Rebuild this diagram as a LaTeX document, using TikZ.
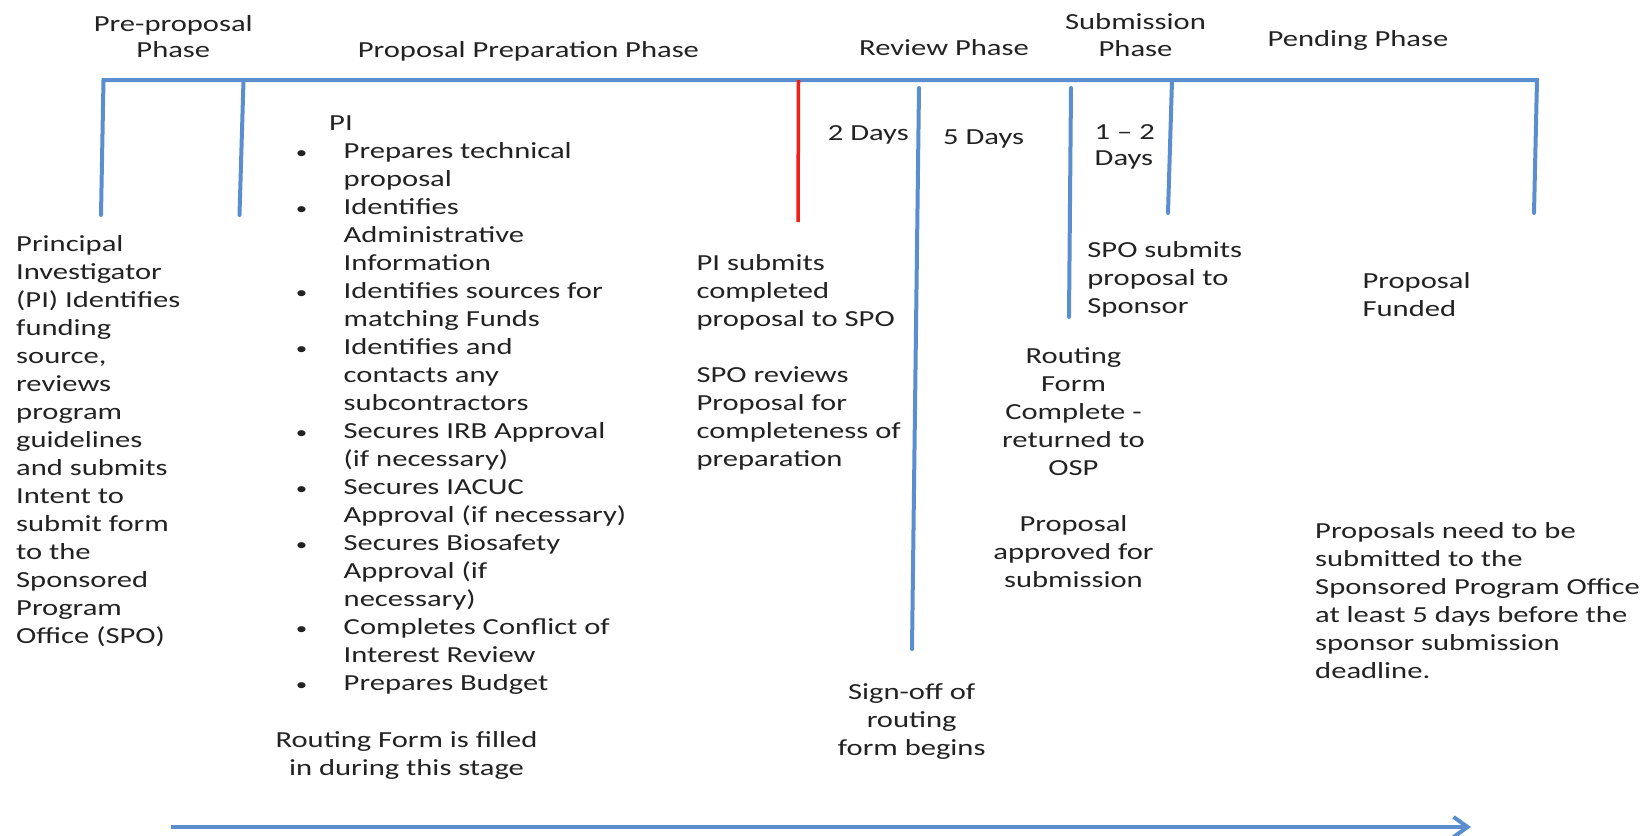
\documentclass[tikz,border=0pt]{standalone}
\usepackage{fontspec}
\setmainfont{Carlito}[FakeStretch=1.33]
\usetikzlibrary{arrows.meta}
\definecolor{tlblue}{RGB}{90,142,206}
\definecolor{tlred}{RGB}{240,30,20}
\definecolor{txt}{RGB}{34,34,34}
\newcommand{\mybul}{\hspace*{14.5bp}\llap{\makebox[20bp]{\scalebox{0.75}{\textbullet}}\hspace{32bp}}}
\newcommand{\myind}{\hspace*{14.5bp}}
\begin{document}
\begin{tikzpicture}[x=1bp,y=-1bp,
  tl/.style={line width=4bp, draw=tlblue, line cap=round},
  tlr/.style={line width=3.5bp, draw=tlred},
  lbl/.style={font=\fontsize{23bp}{28bp}\selectfont, text=txt, inner sep=0pt},
  ttl/.style={font=\fontsize{23bp}{26.5bp}\selectfont, text=txt, inner sep=0pt}]
\useasboundingbox (0,0) rectangle (1647,835);
% timeline
\coordinate (c1b) at (101,215);
\coordinate (c1t) at (103.5,80);
\coordinate (c7t) at (1537,80);
\coordinate (c7b) at (1534,213);
\coordinate (c2t) at (243.5,80);
\coordinate (c2b) at (239.5,215);
\coordinate (c3t) at (798.5,80);
\coordinate (c3b) at (798,222);
\coordinate (c4t) at (919,88);
\coordinate (c4b) at (912,649);
\coordinate (c5t) at (1071,88);
\coordinate (c5b) at (1069,317);
\coordinate (c6t) at (1172,80);
\coordinate (c6b) at (1168,213);
\coordinate (as) at (171,827);
\coordinate (ae) at (1471,827);
\draw[tl, line join=miter] (c1b) -- (c1t) -- (c7t) -- (c7b);
\draw[tl] (c2t) -- (c2b);
\draw[tlr] (c3t) -- (c3b);
\draw[tl] (c4t) -- (c4b);
\draw[tl] (c5t) -- (c5b);
\draw[tl] (c6t) -- (c6b);
\draw[line width=4bp, draw=tlblue, -{Straight Barb[length=14bp,width=20bp]}] (as) -- (ae);
\begin{scope}[shift={(0,3)}]
% phase titles (base anchor = last line)
\node[ttl, anchor=base, align=center] (tpre) at (173.3,54.5) {Pre-proposal\\Phase};
\node[ttl, anchor=base] (tprep) at (528.4,54) {Proposal Preparation Phase};
\node[ttl, anchor=base] (trev) at (944,52) {Review Phase};
\node[ttl, anchor=base, align=center] (tsub) at (1135.5,53) {Submission\\Phase};
\node[ttl, anchor=base] (tpend) at (1358,43) {Pending Phase};
% durations
\node[lbl, anchor=base west] (d2) at (827.7,137) {2 Days};
\node[lbl, anchor=base west] (d5) at (943,141.5) {5 Days};
\node[ttl, anchor=base west, align=left] (d12) at (1094.5,162.6) {1 – 2\\Days};
% texts
\node[lbl, anchor=base west, align=left] (pre) at (16,640) {Principal\\Investigator\\(PI) Identifies\\funding\\source,\\reviews\\program\\guidelines\\and submits\\Intent to\\submit form\\to the\\Sponsored\\Program\\Office (SPO)};
\node[lbl, anchor=base west, align=left] (prep) at (329,687) {PI\\
\mybul Prepares technical\\
\myind proposal\\
\mybul Identifies\\
\myind Administrative\\
\myind Information\\
\mybul Identifies sources for\\
\myind matching Funds\\
\mybul Identifies and\\
\myind contacts any\\
\myind subcontractors\\
\mybul Secures IRB Approval\\
\myind (if necessary)\\
\mybul Secures IACUC\\
\myind Approval (if necessary)\\
\mybul Secures Biosafety\\
\myind Approval (if\\
\myind necessary)\\
\mybul Completes Conflict of\\
\myind Interest Review\\
\mybul Prepares Budget};
\node[lbl, anchor=base, align=center] (route) at (406.5,772.5) {Routing Form is filled\\in during this stage};
\node[lbl, anchor=base west, align=left] (submit) at (696.4,463.6) {PI submits\\completed\\proposal to SPO\\[28bp]SPO reviews\\Proposal for\\completeness of\\preparation};
\node[lbl, anchor=base, align=center] (sign) at (911.7,752) {Sign-off of\\routing\\form begins};
\node[lbl, anchor=base west, align=left] (spo) at (1087.2,310) {SPO submits\\proposal to\\Sponsor};
\node[lbl, anchor=base, align=center] (rfc) at (1073.5,584) {Routing\\Form\\Complete -\\returned to\\OSP\\[28bp]Proposal\\approved for\\submission};
\node[lbl, anchor=base west, align=left] (fund) at (1362.4,313.5) {Proposal\\Funded};
\node[lbl, anchor=base west, align=left] (note) at (1315,675.5) {Proposals need to be\\submitted to the\\Sponsored Program Office\\at least 5 days before the\\sponsor submission\\deadline.};
\end{scope}
\end{tikzpicture}
\end{document}
